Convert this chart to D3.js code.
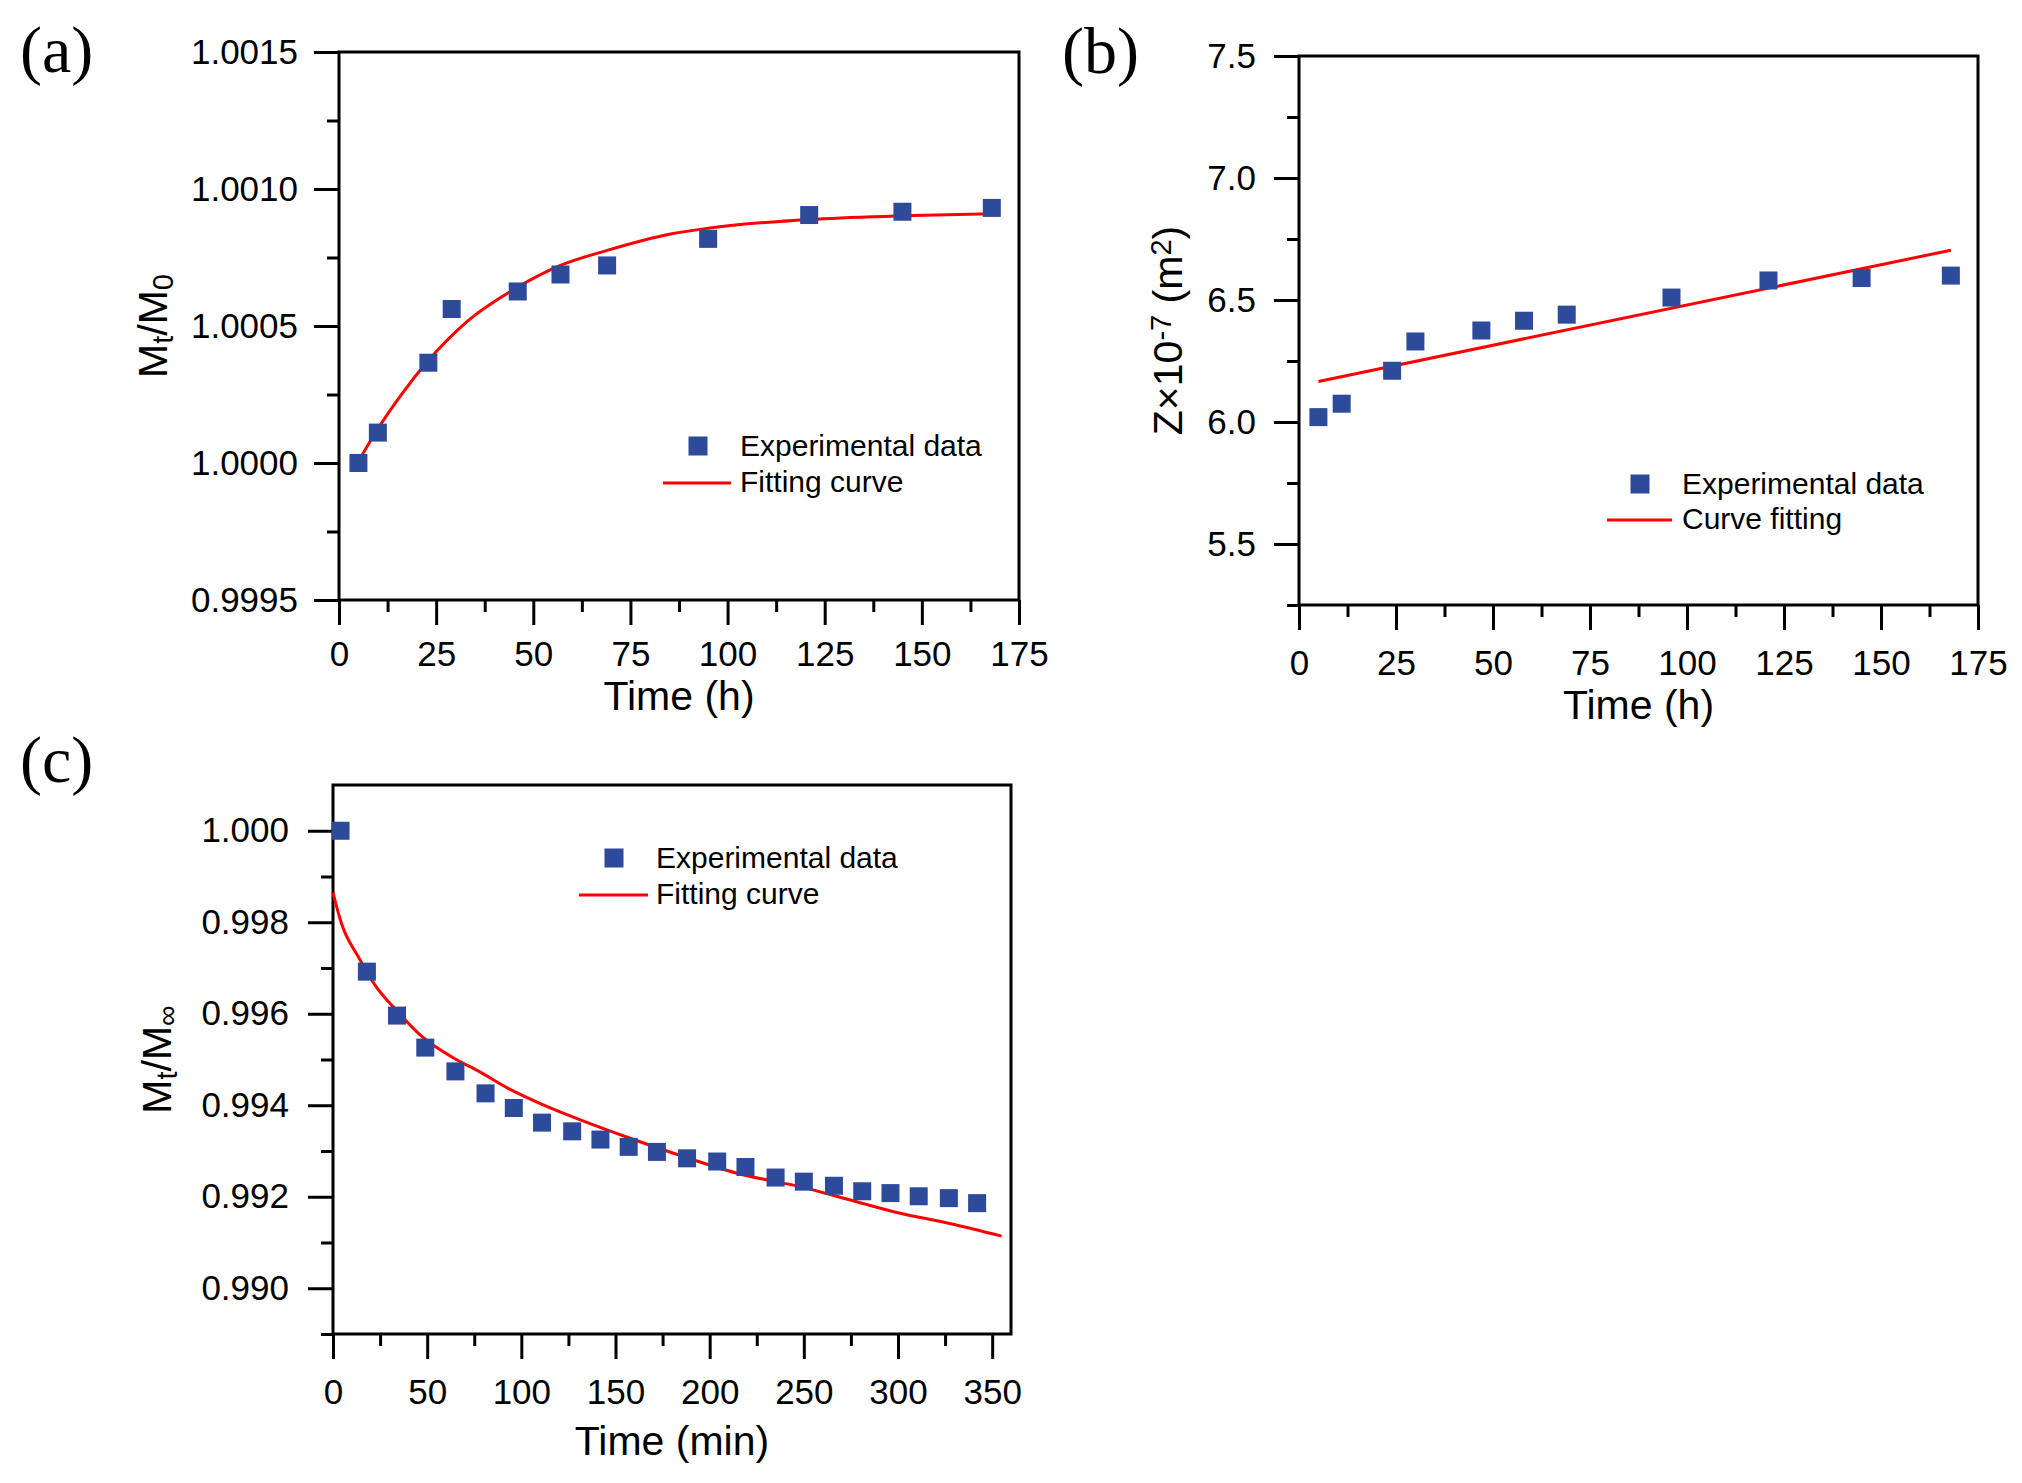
<!DOCTYPE html>
<html>
<head>
<meta charset="utf-8">
<script src="https://cdn.jsdelivr.net/npm/d3@7"></script>
<style>
    body { margin: 0; background: #fff; }
    svg { display: block; }
</style>
</head>
<body>
<div id="figure"></div>
<script>
// (a) mass ratio vs time, hours
var timeA = [5, 10, 23, 29, 46, 57, 69, 95, 121, 145, 168];
var ratioA = [1.00000, 1.000111, 1.000366, 1.000562, 1.000626, 1.000688, 1.000721, 1.000818, 1.000905, 1.000917, 1.000931];
var fitTimeA = [5, 10, 16, 23, 33, 46, 57, 69, 85, 95, 121, 145, 168];
var fitRatioA = [1.000006, 1.000125, 1.000249, 1.000374, 1.000517, 1.000642, 1.000721, 1.000776, 1.000835, 1.000857, 1.000889, 1.000902, 1.000910];

// (b) Z vs time, hours
var timeB = [5, 11, 24, 30, 47, 58, 69, 96, 121, 145, 168];
var zB = [6.02, 6.075, 6.21, 6.33, 6.375, 6.415, 6.44, 6.51, 6.58, 6.59, 6.60];
var fitTimeB = [5, 168];
var fitZB = [6.166, 6.704];

// (c) mass ratio vs time, minutes
var timeC = [4, 18, 34, 49, 65, 81, 96, 111, 127, 142, 157, 172, 188, 204, 219, 235, 250, 266, 281, 296, 311, 327, 342];
var ratioC = [1.0000, 0.99692, 0.99596, 0.99526, 0.99474, 0.99426, 0.99394, 0.99362, 0.99343, 0.99325, 0.99309, 0.99298,
    0.99284, 0.99277, 0.99265, 0.99242, 0.99233, 0.99224, 0.99212, 0.99208, 0.99201, 0.99197, 0.99186];
var fitTimeC = [0, 4.6, 13.5, 22.4, 34, 47, 65, 77.5, 93, 111, 132, 157, 186, 214, 250, 278, 300, 328, 355];
var fitRatioC = [0.99865, 0.99796, 0.99724, 0.99662, 0.99606, 0.99551, 0.99501, 0.99474, 0.99437, 0.99402, 0.99367,
    0.99329, 0.99288, 0.99252, 0.99220, 0.99189, 0.99165, 0.99141, 0.99114];

// tick values
var ticksA_x = [0, 25, 50, 75, 100, 125, 150, 175];
var minorA_x = [12.5, 37.5, 62.5, 87.5, 112.5, 137.5, 162.5];
var ticksA_y = [0.9995, 1.0000, 1.0005, 1.0010, 1.0015];
var minorA_y = [0.99975, 1.00025, 1.00075, 1.00125];
var ticksB_y = [5.5, 6.0, 6.5, 7.0, 7.5];
var minorB_y = [5.25, 5.75, 6.25, 6.75, 7.25];
var ticksC_x = [0, 50, 100, 150, 200, 250, 300, 350];
var minorC_x = [25, 75, 125, 175, 225, 275, 325];
var ticksC_y = [0.990, 0.992, 0.994, 0.996, 0.998, 1.000];
var minorC_y = [0.989, 0.991, 0.993, 0.995, 0.997, 0.999];

var FONT = "'Liberation Sans', Arial, sans-serif";
var BLUE = "#2E4B9B";
var RED = "#ff0000";

var svg = d3.select("#figure")
    .append("svg")
    .attr("width", 2022)
    .attr("height", 1483);

function drawPanel(p) {
    var g = svg.append("g");

    var x = d3.scaleLinear().domain(p.xDomain).range([p.left, p.right]);
    var y = d3.scaleLinear().domain(p.yDomain).range([p.bottom, p.top]);

    // minor ticks
    g.append("g")
        .attr("transform", "translate(0," + p.bottom + ")")
        .call(d3.axisBottom(x).tickValues(p.xMinor).tickSize(12).tickFormat(""));
    g.append("g")
        .attr("transform", "translate(" + p.left + ",0)")
        .call(d3.axisLeft(y).tickValues(p.yMinor).tickSize(12).tickFormat(""));

    // major ticks + labels
    g.append("g")
        .attr("class", "xaxis")
        .attr("transform", "translate(0," + p.bottom + ")")
        .call(d3.axisBottom(x).tickValues(p.xTicks).tickSize(25).tickPadding(p.xPad)
            .tickFormat(d3.format("d")));
    g.append("g")
        .attr("class", "yaxis")
        .attr("transform", "translate(" + p.left + ",0)")
        .call(d3.axisLeft(y).tickValues(p.yTicks).tickSize(25).tickPadding(p.yPad)
            .tickFormat(d3.format(p.yFormat)));

    g.selectAll(".domain").remove();
    g.selectAll(".tick line").attr("stroke", "#000").attr("stroke-width", 3);
    g.selectAll(".tick text")
        .attr("fill", "#000")
        .attr("font-family", FONT)
        .attr("font-size", 35);

    // frame
    g.append("rect")
        .attr("x", p.left)
        .attr("y", p.top)
        .attr("width", p.right - p.left)
        .attr("height", p.bottom - p.top)
        .attr("fill", "none")
        .attr("stroke", "#000")
        .attr("stroke-width", 3);

    // fitting line
    var fit = p.fitX.map(function (d, i) { return [d, p.fitY[i]]; });
    g.append("path")
        .datum(fit)
        .attr("fill", "none")
        .attr("stroke", RED)
        .attr("stroke-width", 3)
        .attr("d", d3.line()
            .curve(d3.curveMonotoneX)
            .x(function (d) { return x(d[0]); })
            .y(function (d) { return y(d[1]); }));

    // experimental points
    var pts = p.dataX.map(function (d, i) { return [d, p.dataY[i]]; });
    g.selectAll("rect.pt")
        .data(pts)
        .enter()
        .append("rect")
        .attr("class", "pt")
        .attr("x", function (d) { return x(d[0]) - 9; })
        .attr("y", function (d) { return y(d[1]) - 9; })
        .attr("width", 18)
        .attr("height", 18)
        .attr("fill", BLUE);

    // x title
    g.append("text")
        .attr("x", (p.left + p.right) / 2)
        .attr("y", p.xTitleY)
        .attr("text-anchor", "middle")
        .attr("font-family", FONT)
        .attr("font-size", 41)
        .text(p.xTitle);

    // y title (rotated)
    var yt = g.append("text")
        .attr("transform", "translate(" + p.yTitleX + "," + (p.top + p.bottom) / 2 + ") rotate(-90)")
        .attr("text-anchor", "middle")
        .attr("font-family", FONT)
        .attr("font-size", 41);
    p.yTitle.forEach(function (part) {
        var t = yt.append("tspan").text(part.t);
        if (part.sub) t.attr("font-size", 29).attr("baseline-shift", "-22%");
        if (part.sup) t.attr("font-size", 29).attr("baseline-shift", "38%");
    });

    // panel letter
    svg.append("text")
        .attr("x", p.letterX)
        .attr("y", p.letterY)
        .attr("font-family", "'Liberation Serif', 'Times New Roman', serif")
        .attr("font-size", 66)
        .text(p.letter);

    // legend
    var lg = g.append("g");
    lg.append("rect")
        .attr("x", p.legSq - 9.5)
        .attr("y", p.legY1 - 9.5)
        .attr("width", 19)
        .attr("height", 19)
        .attr("fill", BLUE);
    lg.append("line")
        .attr("x1", p.legLine[0])
        .attr("x2", p.legLine[1])
        .attr("y1", p.legY2)
        .attr("y2", p.legY2)
        .attr("stroke", RED)
        .attr("stroke-width", 3);
    lg.append("text")
        .attr("x", p.legText)
        .attr("y", p.legY1 + 10)
        .attr("font-family", FONT)
        .attr("font-size", 30)
        .text(p.legend[0]);
    lg.append("text")
        .attr("x", p.legText)
        .attr("y", p.legY2 + 9)
        .attr("font-family", FONT)
        .attr("font-size", 30)
        .text(p.legend[1]);
}

drawPanel({
    left: 339, right: 1019, top: 52, bottom: 600,
    xDomain: [0, 175], yDomain: [0.9995, 1.0015],
    xTicks: ticksA_x, xMinor: minorA_x, yTicks: ticksA_y, yMinor: minorA_y,
    xPad: 16, yPad: 16, yFormat: ".4f",
    dataX: timeA, dataY: ratioA, fitX: fitTimeA, fitY: fitRatioA,
    xTitle: "Time (h)", xTitleY: 710,
    yTitle: [{ t: "M" }, { t: "t", sub: true }, { t: "/M" }, { t: "0", sub: true }], yTitleX: 167,
    letter: "(a)", letterX: 20, letterY: 72,
    legSq: 698, legY1: 446, legLine: [663, 731], legY2: 483, legText: 740,
    legend: ["Experimental data", "Fitting curve"]
});

drawPanel({
    left: 1299, right: 1978, top: 56, bottom: 605,
    xDomain: [0, 175], yDomain: [5.25, 7.5],
    xTicks: ticksA_x, xMinor: minorA_x, yTicks: ticksB_y, yMinor: minorB_y,
    xPad: 20, yPad: 18, yFormat: ".1f",
    dataX: timeB, dataY: zB, fitX: fitTimeB, fitY: fitZB,
    xTitle: "Time (h)", xTitleY: 719,
    yTitle: [{ t: "Z\u00d710" }, { t: "-7", sup: true }, { t: " (m" }, { t: "2", sup: true }, { t: ")" }], yTitleX: 1182,
    letter: "(b)", letterX: 1062, letterY: 73,
    legSq: 1640, legY1: 484, legLine: [1607, 1672], legY2: 520, legText: 1682,
    legend: ["Experimental data", "Curve fitting"]
});

drawPanel({
    left: 333, right: 1011, top: 785, bottom: 1334,
    xDomain: [0, 360], yDomain: [0.989, 1.001],
    xTicks: ticksC_x, xMinor: minorC_x, yTicks: ticksC_y, yMinor: minorC_y,
    xPad: 20, yPad: 19, yFormat: ".3f",
    dataX: timeC, dataY: ratioC, fitX: fitTimeC, fitY: fitRatioC,
    xTitle: "Time (min)", xTitleY: 1455,
    yTitle: [{ t: "M" }, { t: "t", sub: true }, { t: "/M" }, { t: "\u221e", sub: true }], yTitleX: 171,
    letter: "(c)", letterX: 20, letterY: 782,
    legSq: 614, legY1: 858, legLine: [579, 648], legY2: 895, legText: 656,
    legend: ["Experimental data", "Fitting curve"]
});
</script>
</body>
</html>
